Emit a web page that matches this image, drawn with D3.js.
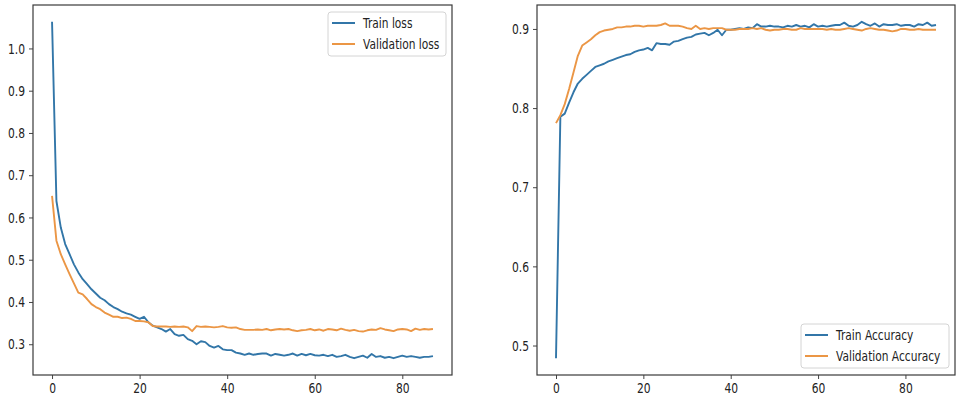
<!DOCTYPE html>
<html><head><meta charset="utf-8">
<script src="https://cdn.jsdelivr.net/npm/d3@7"></script>
<style>
html,body{margin:0;padding:0;background:#fff;}
svg{display:block;}
.tick text{font-family:"DejaVu Sans",sans-serif;font-size:14.5px;fill:#222;}
.leg text{font-family:"DejaVu Sans",sans-serif;font-size:14px;fill:#222;}
</style></head>
<body>
<svg id="chart" width="962" height="401"></svg>
<script>
const epochs = d3.range(88);
const xTicks = [0, 20, 40, 60, 80];
const lossTicks = [0.3, 0.4, 0.5, 0.6, 0.7, 0.8, 0.9, 1.0];
const accTicks = [0.5, 0.6, 0.7, 0.8, 0.9];

const trainLoss = [1.063,0.639,0.576,0.537,0.513,0.489,0.470,0.454,0.442,0.430,
0.420,0.410,0.404,0.395,0.388,0.383,0.377,0.373,0.370,0.365,
0.360,0.365,0.352,0.344,0.340,0.336,0.330,0.336,0.324,0.320,
0.322,0.312,0.308,0.300,0.307,0.305,0.296,0.292,0.296,0.288,
0.286,0.286,0.280,0.278,0.275,0.278,0.275,0.277,0.278,0.278,
0.273,0.277,0.275,0.273,0.275,0.278,0.273,0.277,0.274,0.277,
0.274,0.273,0.275,0.272,0.275,0.270,0.272,0.275,0.270,0.267,
0.270,0.273,0.268,0.277,0.270,0.272,0.268,0.270,0.267,0.270,
0.273,0.270,0.272,0.270,0.268,0.270,0.270,0.272];

const valLoss = [0.651,0.545,0.513,0.489,0.466,0.444,0.422,0.418,0.407,0.395,
0.388,0.383,0.375,0.370,0.365,0.365,0.362,0.363,0.360,0.355,
0.355,0.354,0.352,0.343,0.342,0.342,0.342,0.341,0.342,0.341,
0.342,0.340,0.331,0.343,0.341,0.342,0.341,0.340,0.341,0.343,
0.340,0.339,0.340,0.336,0.334,0.334,0.334,0.335,0.334,0.336,
0.333,0.335,0.336,0.335,0.336,0.333,0.331,0.333,0.334,0.336,
0.333,0.335,0.332,0.336,0.335,0.333,0.337,0.334,0.332,0.334,
0.331,0.330,0.333,0.335,0.334,0.338,0.335,0.333,0.331,0.335,
0.336,0.335,0.331,0.337,0.334,0.336,0.335,0.336];

const trainAcc = [0.484,0.789,0.793,0.807,0.820,0.831,0.837,0.842,0.847,0.852,
0.854,0.856,0.859,0.861,0.863,0.865,0.867,0.868,0.871,0.873,
0.874,0.876,0.873,0.882,0.881,0.881,0.880,0.884,0.885,0.887,
0.889,0.890,0.893,0.894,0.895,0.892,0.895,0.899,0.892,0.899,
0.899,0.900,0.901,0.900,0.902,0.901,0.906,0.903,0.903,0.904,
0.903,0.903,0.902,0.904,0.903,0.905,0.903,0.904,0.902,0.906,
0.903,0.904,0.903,0.904,0.905,0.905,0.908,0.904,0.903,0.905,
0.909,0.906,0.904,0.907,0.903,0.906,0.905,0.905,0.906,0.904,
0.905,0.905,0.903,0.906,0.905,0.908,0.904,0.905];

const valAcc = [0.781,0.791,0.805,0.824,0.845,0.866,0.879,0.883,0.887,0.892,
0.896,0.898,0.899,0.900,0.902,0.902,0.903,0.903,0.904,0.904,
0.903,0.904,0.904,0.904,0.905,0.907,0.904,0.904,0.904,0.903,
0.901,0.900,0.904,0.900,0.901,0.900,0.901,0.901,0.901,0.899,
0.899,0.899,0.900,0.900,0.900,0.901,0.900,0.901,0.899,0.898,
0.899,0.899,0.900,0.900,0.899,0.899,0.901,0.900,0.900,0.900,
0.900,0.900,0.899,0.900,0.899,0.899,0.900,0.901,0.900,0.899,
0.898,0.900,0.901,0.900,0.899,0.899,0.898,0.897,0.898,0.900,
0.900,0.899,0.899,0.900,0.899,0.899,0.899,0.899];

const BLUE = "#3276a8", ORANGE = "#eb9645";
const svg = d3.select("#chart");

function pad(ext){ const r = ext[1]-ext[0]; return [ext[0]-0.05*r, ext[1]+0.05*r]; }
function squeeze(sel, k){
  sel.each(function(){
    const t = d3.select(this);
    const x0 = +t.attr("x") || 0;
    t.attr("x", 0).attr("transform", `translate(${x0},0) scale(${k},1)`);
  });
}

function panel(box, s1, s2, yTicks, fmt, labels, legendPos){
  const x = d3.scaleLinear().domain(pad(d3.extent(epochs))).range([box.x0, box.x1]);
  const y = d3.scaleLinear().domain(pad(d3.extent(s1.concat(s2)))).range([box.y1, box.y0]);
  const g = svg.append("g");
  const line = d3.line().x((d,i)=>x(epochs[i])).y(d=>y(d));
  g.append("path").datum(s1).attr("d", line).attr("fill","none").attr("stroke",BLUE).attr("stroke-width",1.9).attr("stroke-linejoin","round");
  g.append("path").datum(s2).attr("d", line).attr("fill","none").attr("stroke",ORANGE).attr("stroke-width",1.9).attr("stroke-linejoin","round");
  const xa = g.append("g").attr("transform",`translate(0,${box.y1})`)
    .call(d3.axisBottom(x).tickValues(xTicks).tickSize(4).tickPadding(4).tickFormat(d3.format("d")));
  const ya = g.append("g").attr("transform",`translate(${box.x0},0)`)
    .call(d3.axisLeft(y).tickValues(yTicks).tickSize(4).tickPadding(4).tickFormat(d3.format(fmt)));
  [xa, ya].forEach(a=>{ a.select(".domain").remove(); a.selectAll("line").attr("stroke","#444"); squeeze(a.selectAll("text"), 0.74); });
  g.append("rect").attr("x",box.x0).attr("y",box.y0).attr("width",box.x1-box.x0).attr("height",box.y1-box.y0)
    .attr("fill","none").attr("stroke","#3a3a3a").attr("stroke-width",1.2);
  const L = g.append("g").attr("class","leg");
  L.append("rect").attr("x",legendPos.x).attr("y",legendPos.y).attr("width",legendPos.w).attr("height",44)
    .attr("rx",3).attr("fill","#fff").attr("stroke","#d4d4d4").attr("stroke-width",1);
  [[labels[0],BLUE],[labels[1],ORANGE]].forEach((d,i)=>{
    const cy = legendPos.y + 11 + i*21;
    L.append("line").attr("x1",legendPos.x+4).attr("x2",legendPos.x+27).attr("y1",cy).attr("y2",cy)
      .attr("stroke",d[1]).attr("stroke-width",2);
    L.append("text").attr("x",legendPos.x+35).attr("y",cy).attr("dy","0.35em").text(d[0]);
  });
  squeeze(L.selectAll("text"), 0.76);
}

panel({x0:33,x1:452,y0:5,y1:375}, trainLoss, valLoss, lossTicks, ".1f",
  ["Train loss","Validation loss"], {x:328,y:12,w:118});
panel({x0:537,x1:955,y0:5,y1:375}, trainAcc, valAcc, accTicks, ".1f",
  ["Train Accuracy","Validation Accuracy"], {x:801,y:324,w:148});
</script>
</body></html>
